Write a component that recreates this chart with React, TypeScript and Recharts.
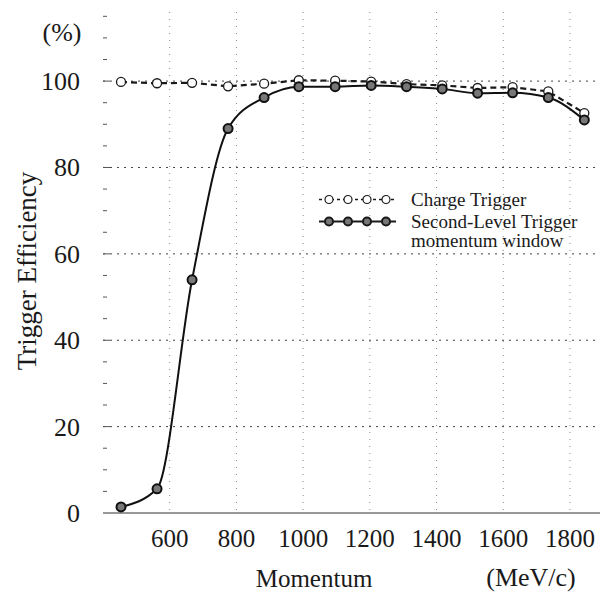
import { LineChart, Line, XAxis, YAxis, CartesianGrid, Legend } from "recharts";

const momentum = [454, 562, 667, 775, 883, 987, 1096, 1204, 1310, 1417, 1523, 1628, 1735, 1843];
const chargeTrigger = [99.8, 99.5, 99.6, 98.8, 99.4, 100.2, 100.1, 99.9, 99.3, 99.0, 98.4, 98.6, 97.6, 92.6];
const secondLevel = [1.4, 5.6, 54.0, 89.0, 96.2, 98.7, 98.7, 99.0, 98.7, 98.2, 97.2, 97.3, 96.2, 91.0];

const xTicks = [600, 800, 1000, 1200, 1400, 1600, 1800];
const yTicks = [0, 5, 10, 15, 20, 25, 30, 35, 40, 45, 50, 55, 60, 65, 70, 75, 80, 85, 90, 95, 100, 105, 110, 115];
const yGrid = [20, 40, 60, 80, 100];

const data = momentum.map((m, i) => ({
  momentum: m,
  charge: chargeTrigger[i],
  second: secondLevel[i],
}));

const serif = "'Liberation Serif', 'Times New Roman', serif";
const ink = "#1a1a1a";

function YTick(props: any) {
  const { x, y, payload } = props;
  const v = payload.value;
  const major = v % 20 === 0;
  return (
    <g>
      {v !== 0 && (
        <line x1={x} x2={x + (major ? 7 : 4)} y1={y} y2={y} stroke="#555" strokeWidth={1} />
      )}
      {major && (
        <text x={x - 23} y={y + 9} textAnchor="end" fontSize={26} fontFamily={serif} fill={ink}>
          {v}
        </text>
      )}
    </g>
  );
}

function XTick(props: any) {
  const { x, y, payload } = props;
  return (
    <text x={x} y={y + 34} textAnchor="middle" fontSize={25} fontFamily={serif} fill={ink}>
      {payload.value}
    </text>
  );
}

function Symbol({ dataKey }: { dataKey: string }) {
  const open = dataKey === "charge";
  const cx = [13, 32, 51, 70];
  return (
    <svg width={82} height={19} style={{ display: "block", flex: "none" }}>
      <line
        x1={3}
        x2={80}
        y1={9.5}
        y2={9.5}
        stroke={ink}
        strokeWidth={open ? 1.5 : 2}
        strokeDasharray={open ? "3 3" : undefined}
      />
      {cx.map((c) => (
        <circle
          key={c}
          cx={c}
          cy={9.5}
          r={4}
          fill={open ? "#fff" : "#777"}
          stroke={ink}
          strokeWidth={open ? 1.2 : 2}
        />
      ))}
    </svg>
  );
}

function LegendContent(props: any) {
  const { payload } = props;
  return (
    <div style={{ fontFamily: serif, fontSize: 19, color: ink }}>
      {payload.map((entry: any) => {
        const lines = String(entry.value).split("\n");
        return (
          <div key={entry.dataKey} style={{ display: "flex", alignItems: "flex-start", marginBottom: 3 }}>
            <Symbol dataKey={entry.dataKey} />
            <div style={{ marginLeft: 13, lineHeight: "19px" }}>
              {lines.map((l) => (
                <div key={l}>{l}</div>
              ))}
            </div>
          </div>
        );
      })}
    </div>
  );
}

export default function App() {
  return (
    <div style={{ position: "absolute", left: 0, top: 0, width: 601, height: 593, background: "#fff" }}>
      <LineChart width={601} height={593} data={data} margin={{ top: 12, right: 1, left: 0, bottom: 0 }}>
        <CartesianGrid
          horizontal={true}
          vertical={false}
          horizontalValues={yGrid}
          stroke="#444"
          strokeDasharray="2 5"
        />
        <CartesianGrid
          horizontal={false}
          vertical={true}
          verticalValues={xTicks}
          stroke="#888"
          strokeDasharray="1 6"
        />
        <XAxis
          dataKey="momentum"
          type="number"
          domain={[400, 1890]}
          ticks={xTicks}
          interval={0}
          height={80}
          tickSize={0}
          tickMargin={0}
          tickLine={false}
          axisLine={{ stroke: "#333", strokeWidth: 1.2 }}
          tick={<XTick />}
        />
        <XAxis
          xAxisId="top"
          orientation="top"
          dataKey="momentum"
          type="number"
          domain={[400, 1890]}
          height={0}
          tick={false}
          tickLine={false}
          axisLine={{ stroke: "#555", strokeWidth: 1 }}
        />
        <YAxis
          type="number"
          domain={[0, 116]}
          ticks={yTicks}
          interval={0}
          width={103}
          tickSize={0}
          tickMargin={0}
          tickLine={false}
          axisLine={false}
          tick={<YTick />}
        />
        <Legend
          layout="vertical"
          align="center"
          verticalAlign="middle"
          wrapperStyle={{ left: 316, top: 190, width: 285, height: "auto" }}
          content={<LegendContent />}
        />
        <Line
          dataKey="charge"
          name="Charge Trigger"
          type="linear"
          stroke={ink}
          strokeWidth={2.2}
          strokeDasharray="6 4"
          dot={{ r: 4.5, fill: "#fff", stroke: ink, strokeWidth: 1.3, strokeDasharray: "" }}
          activeDot={false}
          isAnimationActive={false}
        />
        <Line
          dataKey="second"
          name={"Second-Level Trigger\nmomentum window"}
          type="monotone"
          stroke="#111"
          strokeWidth={2}
          dot={{ r: 4.5, fill: "#777", stroke: "#111", strokeWidth: 2 }}
          activeDot={false}
          isAnimationActive={false}
        />
      </LineChart>
      <div
        style={{
          position: "absolute",
          left: 27,
          top: 271,
          transform: "translate(-50%, -50%) rotate(-90deg)",
          whiteSpace: "nowrap",
          fontFamily: serif,
          fontSize: 27,
          lineHeight: 1,
          color: ink,
        }}
      >
        Trigger Efficiency
      </div>
      <div
        style={{
          position: "absolute",
          left: 62,
          top: 33,
          transform: "translate(-50%, -50%)",
          fontFamily: serif,
          fontSize: 26,
          lineHeight: 1,
          color: ink,
        }}
      >
        (%)
      </div>
      <div
        style={{
          position: "absolute",
          left: 314,
          top: 578,
          transform: "translate(-50%, -50%)",
          fontFamily: serif,
          fontSize: 25,
          lineHeight: 1,
          color: ink,
          whiteSpace: "nowrap",
        }}
      >
        Momentum
      </div>
      <div
        style={{
          position: "absolute",
          left: 531,
          top: 578,
          transform: "translate(-50%, -50%)",
          fontFamily: serif,
          fontSize: 26,
          lineHeight: 1,
          color: ink,
          whiteSpace: "nowrap",
        }}
      >
        (MeV/c)
      </div>
    </div>
  );
}
